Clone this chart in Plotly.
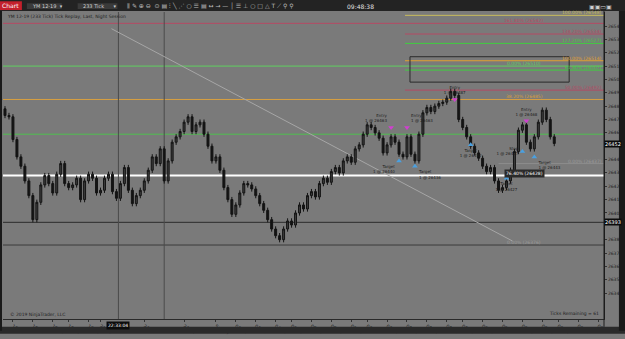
import plotly.graph_objects as go

# ---------------- data ----------------
closes = [26473, 26472, 26455, 26442, 26435, 26424, 26413, 26395, 26408, 26421,
          26428, 26422, 26415, 26429, 26437, 26422, 26419, 26421, 26426, 26410,
          26424, 26429, 26426, 26415, 26417, 26426, 26429, 26416, 26411, 26422,
          26434, 26417, 26407, 26413, 26417, 26424, 26432, 26442, 26437, 26448,
          26424, 26439, 26453, 26457, 26461, 26468, 26472, 26461, 26466, 26468,
          26459, 26450, 26439, 26442, 26432, 26419, 26410, 26399, 26406, 26415,
          26422, 26421, 26418, 26413, 26407, 26402, 26395, 26388, 26383, 26380,
          26388, 26394, 26391, 26400, 26406, 26403, 26413, 26416, 26412, 26422,
          26426, 26423, 26431, 26434, 26430, 26439, 26442, 26438, 26448, 26451,
          26459, 26466, 26464, 26460, 26456, 26445, 26451, 26457, 26453, 26444,
          26442, 26457, 26444, 26439, 26459, 26475, 26479, 26476, 26480, 26482,
          26483, 26486, 26491, 26488, 26470, 26464, 26457, 26450, 26445, 26441,
          26435, 26431, 26434, 26424, 26417, 26419, 26424, 26432, 26446, 26462,
          26466, 26453, 26448, 26457, 26468, 26477, 26470, 26457, 26452]
first_open = 26478
wick = 2

y_ticks = [26340, 26350, 26360, 26370, 26380, 26400, 26410, 26420, 26430,
           26440, 26460, 26470, 26480, 26490, 26500, 26510, 26520, 26530, 26540]
x_tick_bars = [2, 7, 12, 16, 21, 24, 35, 45, 53, 58, 63, 68, 72, 77, 82, 87, 91, 96,
               101, 106, 111, 115, 120, 125, 130, 135, 139, 144, 149]
x_tick_text = ["15:40", "16:40", "16:58", "18:52", "19:55", "21:13", "23:04", "23:52",
               "Sep 27", "02:56", "03:40", "04:45", "05:23", "06:22", "06:52", "07:18",
               "07:34", "07:58", "08:13", "08:32", "08:40", "08:56", "09:08", "09:14",
               "09:21", "09:28", "09:36", "09:40", "09:47"]

# drawn horizontal levels: price, colour, start bar (None = full width), label, label place
level_prices = [26548, 26542, 26534, 26527, 26514, 26510, 26507, 26492, 26485, 26459,
                26437, 26428, 26393, 26376]
level_colors = ["#cbbd5c", "#b44a64", "#b44a64", "#3fcf3f", "#e0a030", "#5fd05f",
                "#3fcf3f", "#b44a64", "#d8a040", "#4fbf4f", "#8c8c8c", "#ffffff",
                "#2b2b2b", "#3a3a3a"]
level_starts = [100.5, None, 100.5, 100.5, 100.5, None, 100.5, 100.5, None, None,
                124, None, None, None]
level_widths = [1, 1, 1, 1, 1, 1, 1, 1, 1, 1, 1, 2, 1, 1]
level_labels = ["100.00% (26548)", "161.80% (26542)", "138.20% (26534)", "127.20% (26527)",
                "100.00% (26514)", "0.00% (26510)", "61.80% (26507)", "50.00% (26492)",
                "38.20% (26485)", "", "0.00% (26437)", "76.40% (26428)", "", "0.00% (26376)"]
level_label_pos = ["right", "center", "right", "right", "right", "center", "right", "right",
                   "center", "", "right", "center", "", "center"]

entry_bars = [97, 101, 113, 131]
entry_prices = [26464, 26464, 26485, 26469]
entry_text = ["Entry<br>1 @ 26463", "Entry<br>1 @ 26463", "Entry<br>1 @ 26487", "Entry<br>1 @ 26468"]
target_bars = [99, 103, 117, 126, 130, 133]
target_prices = [26439, 26435, 26451, 26426, 26446, 26442]
target_text = ["Target<br>1 @ 26440", "Target<br>1 @ 26436", "Target<br>1 @ 26452",
               "Target<br>1 @ 26427", "Stop<br>1 @ 26447", "Target<br>1 @ 26443"]

# ---------------- build ----------------
bars = list(range(len(closes)))
opens = [first_open] + closes[:-1]
highs = [max(o, c) + wick for o, c in zip(opens, closes)]
lows = [min(o, c) - wick for o, c in zip(opens, closes)]

W, H = 625, 339
ML, MR, MT, MB = 3, 18, 12, 12
PW = W - ML - MR
PH = H - MT - MB


def xp(px):
    return (px - ML) / PW


def yp(py):
    return (H - MB - py) / PH


GRAY = "#7a7a7a"
DARK = "#232323"

fig = go.Figure()

fig.add_trace(go.Candlestick(
    x=bars, open=opens, high=highs, low=lows, close=closes,
    increasing=dict(line=dict(color="#141414", width=1), fillcolor="#3c3c3c"),
    decreasing=dict(line=dict(color="#141414", width=1), fillcolor="#141414"),
    whiskerwidth=0, showlegend=False, hoverinfo="skip"))

# levels
for p, col, st, w, lab, pos in zip(level_prices, level_colors, level_starts, level_widths,
                                   level_labels, level_label_pos):
    if st is None:
        fig.add_shape(type="line", xref="paper", yref="y", x0=0, x1=1, y0=p, y1=p,
                      line=dict(color=col, width=w), layer="below")
    else:
        fig.add_shape(type="line", xref="x", yref="y", x0=st, x1=150.5, y0=p, y1=p,
                      line=dict(color=col, width=w), layer="below")
    if lab:
        if pos == "right":
            fig.add_annotation(xref="paper", yref="y", x=1.0, y=p, text=lab, showarrow=False,
                               xanchor="right", yanchor="bottom", yshift=-2,
                               font=dict(size=4.5, color=col if col != "#8c8c8c" else "#9a9a9a"))
        else:
            fig.add_annotation(xref="x", yref="y", x=130.5, y=p, text=lab, showarrow=False,
                               xanchor="center", yanchor="bottom", yshift=-2,
                               bgcolor="#2a2a2a" if col == "#ffffff" else None,
                               font=dict(size=4.5, color=col if col not in ("#2b2b2b", "#3a3a3a") else "#9a9a9a"))

# rectangle zone
fig.add_shape(type="rect", xref="x", yref="y", x0=101.75, x1=141.75, y0=26498, y1=26517,
              line=dict(color="#2a2a2a", width=1), layer="below")
# diagonal line
fig.add_shape(type="line", xref="x", yref="y", x0=26.75, x1=127.5, y0=26538, y1=26379,
              line=dict(color="#a6a6a6", width=1), layer="below")
# vertical lines
for b in [28.5, 40]:
    fig.add_shape(type="line", xref="x", yref="paper", x0=b, x1=b, y0=0, y1=1,
                  line=dict(color="#4a4a4a", width=1), layer="below")

# entries / targets
fig.add_trace(go.Scatter(x=entry_bars, y=entry_prices, mode="markers+text", text=entry_text,
                         textposition=["top left", "top right", "top center", "top center"],
                         textfont=dict(size=4, color="#1c1c1c"),
                         marker=dict(symbol="triangle-down", size=5, color="#d040d0"),
                         showlegend=False, hoverinfo="skip", cliponaxis=False))
fig.add_trace(go.Scatter(x=target_bars, y=target_prices, mode="markers+text", text=target_text,
                         textposition=["bottom left", "bottom right", "bottom center",
                                       "bottom center", "middle left", "bottom right"],
                         textfont=dict(size=4, color="#1c1c1c"),
                         marker=dict(symbol="triangle-up", size=5, color="#4aa0e0"),
                         showlegend=False, hoverinfo="skip", cliponaxis=False))

# price boxes on axis
for p in [closes[-1], level_prices[12]]:
    fig.add_annotation(xref="paper", yref="y", x=1.0, y=p, text=str(p), showarrow=False,
                       xanchor="left", yanchor="middle", bgcolor="#0c0c0c", borderpad=0,
                       font=dict(size=5, color="#ffffff"))

# frame / chrome shapes
chrome = [
    (xp(0) - 0.01, yp(11), xp(625) + 0.01, yp(0) + 0.01, DARK),       # toolbar
    (xp(0) - 0.01, yp(339) - 0.01, xp(625) + 0.01, yp(335), "#2a2a2a"),  # bottom strip
    (xp(0) - 0.01, yp(339), xp(2), yp(11), "#1a1a1a"),                  # left border
    (xp(622), yp(339), xp(625) + 0.01, yp(11), "#1a1a1a"),              # right border
    (xp(0), yp(10), xp(22), yp(1), "#c3202c"),                           # Chart button
    (xp(27), yp(9), xp(62), yp(3), "#3a3a3a"),
    (xp(78), yp(9), xp(118), yp(3), "#3a3a3a"),
]
for x0, y0, x1, y1, col in chrome:
    fig.add_shape(type="rect", xref="paper", yref="paper", x0=x0, y0=y0, x1=x1, y1=y1,
                  fillcolor=col, line=dict(width=0), layer="above")
fig.add_shape(type="line", xref="paper", yref="paper", x0=1, x1=1, y0=yp(335), y1=yp(11),
              line=dict(color="#1c1c1c", width=1))

texts = [
    (11, 5.5, "Chart", 6, "#ffffff", "center"),
    (30, 6, "YM 12-19  ▾", 5, "#d0d0d0", "left"),
    (81, 6, "233 Tick      ▾", 5, "#d0d0d0", "left"),
    (126, 6, "⫼ ✎ ⊕ ⊖  ⊙ ▤ ⫶ ╲ ⋰ ○ ☰ ▤ ↔ → — │ ☰ ⊥ ○ □ △ T ⟋ ⚲ ⚲", 6, "#bdbdbd", "left"),
    (347, 6, "09:48:38", 6, "#e0e0e0", "left"),
    (590, 6, "▣▣▭▣", 6, "#cfcfcf", "left"),
    (5, 16.5, "YM 12-19 (233 Tick) Tick Replay, Last, Night Session", 4.5, "#1e1e1e", "left"),
    (8, 322.5, "© 2019 NinjaTrader, LLC", 4.5, "#1e1e1e", "left"),
    (604, 321, "Ticks Remaining = 61", 4.5, "#1e1e1e", "right"),
]
for px, py, t, s, c, anc in texts:
    fig.add_annotation(xref="paper", yref="paper", x=xp(px), y=yp(py), text=t, showarrow=False,
                       xanchor=anc, yanchor="middle", font=dict(size=s, color=c))
# crosshair time box
fig.add_annotation(xref="x", yref="paper", x=28.5, y=0, text="22:33:04", showarrow=False,
                   yanchor="top", yshift=-2, bgcolor="#0c0c0c", font=dict(size=4.5, color="#ffffff"))

fig.update_layout(
    width=W, height=H, margin=dict(l=ML, r=MR, t=MT, b=MB),
    paper_bgcolor=GRAY, plot_bgcolor=GRAY,
    font=dict(family="DejaVu Sans"),
    xaxis=dict(range=[-0.5, 150.5], rangeslider=dict(visible=False), showgrid=False,
               zeroline=False, tickmode="array", tickvals=x_tick_bars, ticktext=x_tick_text,
               tickfont=dict(size=4.5, color="#1e1e1e"), ticks="outside", ticklen=2,
               tickcolor="#333333", showline=True, linecolor="#2a2a2a", linewidth=1),
    yaxis=dict(range=[26320.6, 26550.5], side="right", showgrid=False, zeroline=False,
               tickmode="array", tickvals=y_ticks, ticktext=[str(v) for v in y_ticks],
               tickfont=dict(size=4.5, color="#1e1e1e"), ticks="outside", ticklen=2,
               tickcolor="#333333", showline=True, linecolor="#1c1c1c", linewidth=1),
)

fig.write_html("out.html")
